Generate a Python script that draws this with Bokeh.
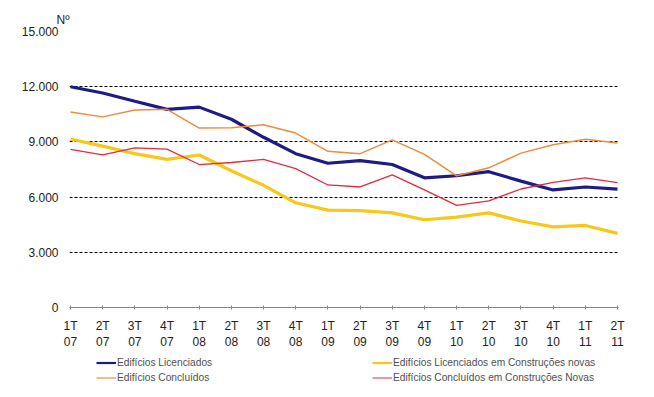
from bokeh.plotting import figure
from bokeh.models import FixedTicker, Legend, LegendItem, Title, Range1d
from bokeh.layouts import column
from bokeh.embed import file_html
from bokeh.resources import INLINE

quarters = ["1T\n07", "2T\n07", "3T\n07", "4T\n07", "1T\n08", "2T\n08", "3T\n08", "4T\n08",
            "1T\n09", "2T\n09", "3T\n09", "4T\n09", "1T\n10", "2T\n10", "3T\n10", "4T\n10",
            "1T\n11", "2T\n11"]

licenciados = [12000, 11660, 11210, 10770, 10890, 10230, 9250, 8360, 7840, 7980,
               7770, 7050, 7160, 7380, 6870, 6390, 6550, 6430]
concluidos = [10620, 10360, 10730, 10770, 9750, 9770, 9930, 9480, 8490, 8360,
              9110, 8320, 7160, 7590, 8390, 8840, 9140, 8940]
lic_novas = [9160, 8770, 8360, 8050, 8290, 7430, 6640, 5690, 5290, 5270,
             5140, 4770, 4910, 5140, 4700, 4380, 4460, 4030]
conc_novas = [8590, 8290, 8680, 8610, 7770, 7880, 8050, 7550, 6660, 6550,
              7210, 6390, 5550, 5800, 6440, 6800, 7050, 6790]

y_ticks = [0, 3000, 6000, 9000, 12000, 15000]
y_tick_labels = ["0", "3.000", "6.000", "9.000", "12.000", "15.000"]

names = ["Edifícios Licenciados", "Edifícios Licenciados em Construções novas",
         "Edifícios Concluídos", "Edifícios Concluídos em Construções Novas"]
colors = ["#1c1c84", "#f7c81a", "#f28a3c", "#e62a3a"]
widths = [3.2, 3.2, 1.5, 1.3]
legend_widths = [2.2, 2.2, 1.2, 1.0]

FONT = "Liberation Sans"
x = list(range(len(quarters)))

p = figure(width=650, height=352, output_backend="svg", toolbar_location=None,
           x_range=Range1d(-0.031, 17.031), y_range=Range1d(0, 15000),
           min_border_left=69, min_border_right=32, min_border_top=31, min_border_bottom=41)
p.outline_line_color = None
p.background_fill_color = "white"

series = [licenciados, lic_novas, concluidos, conc_novas]
draw_order = [0, 2, 1, 3]
for i in draw_order:
    p.line(x, series[i], line_color=colors[i], line_width=widths[i])

# axes
p.xaxis.ticker = FixedTicker(ticks=x)
p.xaxis.major_label_overrides = {i: q for i, q in enumerate(quarters)}
p.xaxis.axis_line_color = "#888888"
p.xaxis.major_tick_line_color = "#888888"
p.xaxis.major_tick_in = 2
p.xaxis.major_tick_out = 2
p.xaxis.minor_tick_line_color = None
p.xaxis.major_label_standoff = 9
p.xaxis.major_label_text_font = FONT
p.xaxis.major_label_text_font_size = "12px"
p.xaxis.major_label_text_color = "#222222"

p.yaxis.ticker = FixedTicker(ticks=y_ticks)
p.yaxis.major_label_overrides = {t: l for t, l in zip(y_ticks, y_tick_labels)}
p.yaxis.axis_line_color = None
p.yaxis.major_tick_line_color = None
p.yaxis.minor_tick_line_color = None
p.yaxis.major_tick_out = 0
p.yaxis.major_label_standoff = 11
p.yaxis.major_label_text_font = FONT
p.yaxis.major_label_text_font_size = "12px"
p.yaxis.major_label_text_color = "#222222"

p.xgrid.grid_line_color = None
p.ygrid.ticker = FixedTicker(ticks=y_ticks[1:])
p.ygrid.grid_line_color = "black"
p.ygrid.grid_line_dash = "3 2"
p.ygrid.grid_line_width = 1

p.add_layout(Title(text="Nº", align="left", offset=-13, standoff=10, text_font=FONT,
                   text_font_size="12px", text_font_style="normal",
                   text_color="#222222"), "above")

# legend strip below the chart (its frame is aligned with the chart's frame)
lp = figure(width=650, height=40, output_backend="svg", toolbar_location=None,
            x_range=Range1d(0, 1), y_range=Range1d(0, 1),
            min_border_left=69, min_border_right=32, min_border_top=0, min_border_bottom=0)
lp.axis.visible = False
lp.grid.visible = False
lp.outline_line_color = None
nan = float("nan")
proxies = [lp.line([nan], [nan], line_color=c, line_width=w)
           for c, w in zip(colors, legend_widths)]

def make_legend(idx, vx):
    return Legend(items=[LegendItem(label=names[i], renderers=[proxies[i]]) for i in idx],
                  location=(vx, 7), orientation="vertical",
                  padding=0, margin=0, spacing=0, glyph_width=20, glyph_height=15,
                  label_height=15, label_standoff=1, border_line_color=None,
                  background_fill_alpha=0, label_text_font=FONT,
                  label_text_font_size="10.2px", label_text_color="#505050")

lp.add_layout(make_legend([0, 2], 27), "center")
lp.add_layout(make_legend([1, 3], 303), "center")

open("out.html", "w").write(file_html(column(p, lp, spacing=0), INLINE))
